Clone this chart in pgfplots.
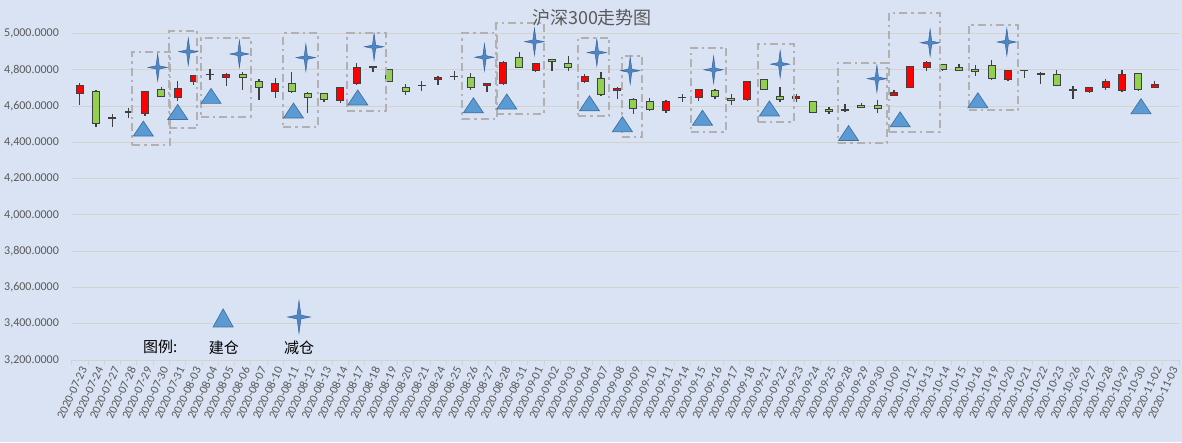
\documentclass[border=0pt]{standalone}
\usepackage{pgfplots}
\pgfplotsset{compat=1.18}
\usepackage{pgfplotstable}
\usepackage{fontspec}
\setmainfont{Carlito}
\newfontfamily\cjk{Noto Sans CJK SC}
\definecolor{bg}{RGB}{218,227,243}
\definecolor{gridc}{RGB}{210,210,206}
\definecolor{txt}{RGB}{89,89,89}
\definecolor{wick}{RGB}{64,64,64}
\definecolor{upc}{RGB}{255,0,0}
\definecolor{dnc}{RGB}{146,208,80}
\definecolor{trif}{RGB}{91,155,213}
\definecolor{trid}{RGB}{65,113,156}
\definecolor{starf}{RGB}{79,135,198}
\definecolor{stard}{RGB}{55,100,155}
\definecolor{boxc}{RGB}{178,176,176}

\pgfdeclareplotmark{tri}{%
 \pgfpathmoveto{\pgfqpoint{-\pgfplotmarksize}{-0.75\pgfplotmarksize}}%
 \pgfpathlineto{\pgfqpoint{\pgfplotmarksize}{-0.75\pgfplotmarksize}}%
 \pgfpathlineto{\pgfqpoint{0pt}{0.75\pgfplotmarksize}}%
 \pgfpathclose
 \pgfusepathqfillstroke}
\pgfdeclareplotmark{star4}{%
 \pgfpathmoveto{\pgfqpoint{0pt}{1.35\pgfplotmarksize}}%
 \pgfpathlineto{\pgfqpoint{0.16\pgfplotmarksize}{0.16\pgfplotmarksize}}%
 \pgfpathlineto{\pgfqpoint{0.95\pgfplotmarksize}{0pt}}%
 \pgfpathlineto{\pgfqpoint{0.16\pgfplotmarksize}{-0.16\pgfplotmarksize}}%
 \pgfpathlineto{\pgfqpoint{0pt}{-1.35\pgfplotmarksize}}%
 \pgfpathlineto{\pgfqpoint{-0.16\pgfplotmarksize}{-0.16\pgfplotmarksize}}%
 \pgfpathlineto{\pgfqpoint{-0.95\pgfplotmarksize}{0pt}}%
 \pgfpathlineto{\pgfqpoint{-0.16\pgfplotmarksize}{0.16\pgfplotmarksize}}%
 \pgfpathclose
 \pgfusepathqfillstroke}

\pgfplotstableread{
x o h l c
0 4667 4727 4607 4713
1 4678 4691 4482 4504
2 4534 4555 4482 4538
3 4565 4591 4536 4568
4 4558 4678 4545 4678
5 4689 4705 4652 4655
6 4649 4740 4627 4695
7 4733 4771 4718 4771
8 4772 4804 4745 4775
9 4760 4780 4709 4776
10 4776 4785 4691 4760
11 4738 4749 4633 4705
12 4678 4754 4645 4722
13 4727 4789 4673 4678
14 4667 4676 4564 4645
15 4667 4673 4625 4636
16 4631 4705 4618 4705
17 4727 4836 4718 4815
18 4813 4822 4789 4816
19 4804 4806 4738 4738
20 4705 4722 4660 4678
21 4712 4740 4682 4715
22 4744 4767 4715 4755
23 4762 4795 4742 4765
24 4760 4782 4687 4705
25 4716 4727 4678 4727
26 4727 4849 4715 4840
27 4869 4896 4813 4815
28 4798 4836 4785 4836
29 4858 4858 4793 4844
30 4836 4876 4796 4815
31 4735 4778 4727 4765
32 4753 4787 4655 4665
33 4684 4705 4640 4695
34 4635 4645 4558 4587
35 4627 4643 4571 4582
36 4573 4631 4562 4624
37 4645 4667 4624 4648
38 4649 4689 4629 4689
39 4684 4695 4640 4655
40 4642 4664 4604 4629
41 4635 4740 4629 4733
42 4749 4749 4689 4689
43 4651 4705 4625 4635
44 4640 4665 4625 4651
45 4624 4627 4564 4564
46 4580 4595 4555 4569
47 4576 4613 4567 4579
48 4605 4616 4589 4591
49 4605 4633 4564 4585
50 4660 4691 4655 4676
51 4705 4818 4698 4818
52 4811 4846 4793 4839
53 4828 4828 4793 4804
54 4811 4833 4793 4798
55 4802 4824 4765 4789
56 4822 4852 4743 4754
57 4748 4796 4737 4796
58 4798 4800 4756 4796
59 4775 4789 4721 4777
60 4772 4800 4715 4715
61 4687 4713 4640 4690
62 4678 4706 4671 4700
63 4700 4750 4686 4734
64 4684 4800 4678 4772
65 4778 4778 4684 4693
66 4700 4739 4697 4717
}\kdata

\pgfplotstableread{
x y
3.90 4476
6.01 4567
8.06 4656
13.12 4575
17.07 4647
24.17 4604
26.22 4625
31.30 4615
33.32 4500
38.24 4536
42.35 4587
47.21 4451
50.38 4527
55.15 4632
65.17 4599
}\buyd

\pgfplotstableread{
x y
4.78 4813
6.66 4900
9.80 4887
13.88 4867
18.07 4927
24.85 4869
27.92 4955
31.75 4895
33.80 4795
38.92 4800
43.01 4831
48.95 4751
52.22 4949
56.93 4953
}\selld

\pgfplotsset{base/.style={
  scale only axis, width=1107.3pt, height=326.5pt,
  at={(71.7pt,82pt)}, anchor=south west,
  xmin=-0.5, xmax=67.5, ymin=3200, ymax=5000}}

\begin{document}
\begin{tikzpicture}
\fill[bg] (0,0) rectangle (1182pt,442pt);
\useasboundingbox (0,0) rectangle (1182pt,442pt);

% axis 1: grid, ticks, wicks
\begin{axis}[base,
  axis x line*=bottom, axis y line*=left,
  x axis line style={draw=gridc, line width=0.8pt, -},
  y axis line style={draw=none},
  ytick={3200,3400,...,5000},
  ymajorgrids, grid style={draw=gridc, line width=0.8pt},
  xtick={0,...,67},
  xticklabels={2020-07-23,2020-07-24,2020-07-27,2020-07-28,2020-07-29,2020-07-30,2020-07-31,2020-08-03,2020-08-04,2020-08-05,2020-08-06,2020-08-07,2020-08-10,2020-08-11,2020-08-12,2020-08-13,2020-08-14,2020-08-17,2020-08-18,2020-08-19,2020-08-20,2020-08-21,2020-08-24,2020-08-25,2020-08-26,2020-08-27,2020-08-28,2020-08-31,2020-09-01,2020-09-02,2020-09-03,2020-09-04,2020-09-07,2020-09-08,2020-09-09,2020-09-10,2020-09-11,2020-09-14,2020-09-15,2020-09-16,2020-09-17,2020-09-18,2020-09-21,2020-09-22,2020-09-23,2020-09-24,2020-09-25,2020-09-28,2020-09-29,2020-09-30,2020-10-09,2020-10-12,2020-10-13,2020-10-14,2020-10-15,2020-10-16,2020-10-19,2020-10-20,2020-10-21,2020-10-22,2020-10-23,2020-10-26,2020-10-27,2020-10-28,2020-10-29,2020-10-30,2020-11-02,2020-11-03},
  major x tick style={draw=none},
  minor xtick={-0.5,0.5,...,67.5},
  minor x tick style={draw=gridc, line width=0.8pt},
  minor tick length=5pt,
  tick align=outside,
  ytick style={draw=none},
  xticklabel style={rotate=65, anchor=east, font=\fontsize{12}{13}\selectfont, text=txt, inner sep=1pt, yshift=-5pt},
  yticklabel style={font=\fontsize{12}{13}\selectfont, text=txt, xshift=-5pt},
  /pgf/number format/.cd, fixed, fixed zerofill, precision=4, 1000 sep={,}, assume math mode=true,
]
\addplot[only marks, mark=*, mark size=0pt, mark options={draw=none, fill=none},
  error bars/.cd, y dir=both, y explicit, error mark=none,
  error bar style={draw=wick, line width=1.3pt, solid}]
  table[x=x, y expr={(\thisrow{h}+\thisrow{l})/2}, y error expr={(\thisrow{h}-\thisrow{l})/2}] {\kdata};
\end{axis}

% axis 2: bodies
\begin{axis}[base, hide axis, ybar stacked, bar width=7pt]
\addplot[draw=none, fill=none] table[x=x, y expr={min(\thisrow{o},\thisrow{c})}] {\kdata};
\addplot[draw=wick, fill=upc, line width=1pt] table[x=x, y expr={max(\thisrow{c}-\thisrow{o},0)}] {\kdata};
\addplot[draw=wick, fill=dnc, line width=1pt] table[x=x, y expr={max(\thisrow{o}-\thisrow{c},0)}] {\kdata};
\end{axis}

% axis 3: signals, boxes, legend
\begin{axis}[base, hide axis, clip=false]
\foreach \a/\b/\cc/\d in {3.21/5.54/4386/4900, 5.48/7.22/4478/5015, 7.43/10.50/4540/4973, 12.50/14.65/4486/5000, 16.43/18.79/4573/5005, 23.48/25.61/4527/5000, 25.57/28.51/4558/5058, 30.60/32.52/4545/4976, 33.29/34.55/4431/4878, 37.52/39.69/4458/4922, 41.64/43.87/4514/4940, 46.57/49.60/4396/4840, 49.70/52.83/4455/5115, 54.58/57.61/4577/5047}{
  \edef\tmp{\noexpand\addplot[draw=boxc, line width=2pt, dash pattern=on 8pt off 4pt on 2.5pt off 4pt, mark=none] coordinates {(\a,\cc) (\b,\cc) (\b,\d) (\a,\d) (\a,\cc)};}
  \tmp
}
\addplot[only marks, mark=tri, mark size=10pt, mark options={fill=trif, draw=trid, line width=0.7pt}] table {\buyd};
\addplot[only marks, mark=star4, mark size=10pt, mark options={fill=starf, draw=stard, line width=0.5pt}] table {\selld};
% legend
\addplot[only marks, mark=tri, mark size=10pt, mark options={fill=trif, draw=trid, line width=0.7pt, yscale=1.2}] coordinates {(8.80,3432)};
\addplot[only marks, mark=star4, mark size=12pt, mark options={fill=starf, draw=stard, line width=0.5pt}] coordinates {(13.46,3437)};
\node[font=\cjk\fontsize{15}{16}\selectfont, text=black] at (axis cs:4.93,3275) {图例:};
\node[font=\cjk\fontsize{15}{16}\selectfont, text=black] at (axis cs:8.85,3265) {建仓};
\node[font=\cjk\fontsize{15}{16}\selectfont, text=black] at (axis cs:13.46,3265) {减仓};
\end{axis}

\node[font=\cjk\fontsize{18}{20}\selectfont, text=txt] at (592pt,424pt) {沪深300走势图};
\end{tikzpicture}
\end{document}
